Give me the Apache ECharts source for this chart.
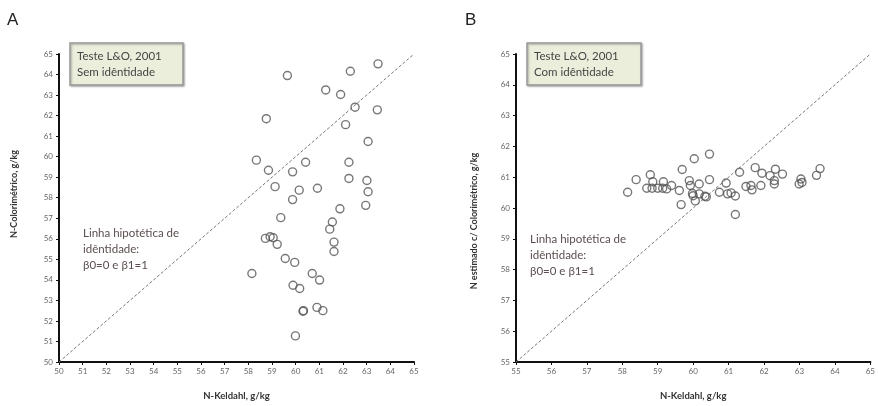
<!DOCTYPE html>
<html>
<head>
<meta charset="utf-8">
<script src="https://cdn.jsdelivr.net/npm/echarts@6/dist/echarts.min.js"></script>
<style>html,body{margin:0;padding:0;background:#fff;}#c{width:878px;height:406px;}</style>
</head>
<body>
<div id="c"></div>
<script>
// Panel A: Sem identidade
const xA = [59.65,63.48,62.31,61.27,61.90,62.51,63.45,58.76,62.11,63.06,58.34,60.42,62.25,58.85,59.87,62.25,63.01,59.13,60.15,60.92,63.06,59.87,62.96,61.87,59.37,61.55,61.44,58.72,58.92,59.05,59.22,61.62,61.62,59.56,59.96,58.15,60.70,61.01,59.89,60.17,60.31,60.33,60.90,61.15,59.99];
const yA = [63.95,64.52,64.16,63.25,63.03,62.41,62.28,61.85,61.56,60.74,59.83,59.73,59.73,59.34,59.26,58.94,58.84,58.54,58.37,58.46,58.29,57.91,57.63,57.46,57.03,56.82,56.47,56.02,56.10,56.05,55.73,55.84,55.38,55.04,54.85,54.31,54.31,53.99,53.74,53.58,52.47,52.50,52.66,52.50,51.27];
// Panel B: Com identidade
const xB = [58.15,58.39,58.79,58.86,58.69,58.84,59.00,59.14,59.25,59.16,59.39,59.61,59.66,59.69,59.89,59.92,60.03,59.98,60.00,60.06,60.17,60.17,60.33,60.37,60.46,60.46,60.74,60.93,60.97,61.07,61.19,61.19,61.31,61.49,61.63,61.66,61.91,61.75,61.94,62.17,62.32,62.29,62.29,62.52,62.99,63.04,63.07,63.48,63.58];
const yB = [60.51,60.92,61.08,60.85,60.64,60.64,60.64,60.64,60.62,60.85,60.73,60.57,60.11,61.25,60.89,60.73,61.60,60.47,60.40,60.23,60.78,60.46,60.38,60.36,61.75,60.92,60.51,60.81,60.46,60.49,60.39,59.79,61.16,60.70,60.73,60.59,60.73,61.31,61.13,61.05,61.26,60.89,60.78,61.10,60.78,60.94,60.83,61.06,61.28];
// Axis ranges
const rangeA = [50, 65];
const rangeB = [55, 65];
const identA = [[50, 50], [65, 65]];
const identB = [[55, 55], [65, 65]];

const titleFont = 'Lato, "Open Sans", sans-serif';
function xAxis(idx, r) {
  return {
    gridIndex: idx, type: 'value', min: r[0], max: r[1], interval: 1,
    name: 'N-Keldahl, g/kg', nameLocation: 'middle', nameGap: 29,
    nameTextStyle: { fontSize: 9.5, fontWeight: 'bold', color: '#333', fontFamily: titleFont },
    axisLine: { lineStyle: { color: '#111', width: 2 } },
    axisTick: { length: 3, lineStyle: { color: '#111' } },
    axisLabel: { fontSize: 8, color: '#666', margin: 5, fontFamily: titleFont },
    splitLine: { show: false }
  };
}
function yAxis(idx, r, name, gap, pad) {
  return {
    gridIndex: idx, type: 'value', min: r[0], max: r[1], interval: 1,
    name: name, nameLocation: 'middle', nameGap: gap,
    nameTextStyle: { fontSize: 9, fontWeight: 'bold', color: '#333', fontFamily: titleFont, padding: pad },
    axisLine: { lineStyle: { color: '#111', width: 2 } },
    axisTick: { length: 3, lineStyle: { color: '#111' } },
    axisLabel: { fontSize: 8, color: '#666', margin: 6, fontFamily: titleFont },
    splitLine: { show: false }
  };
}
const pts = (xs, ys) => xs.map((x, i) => [x, ys[i]]);
const scatterStyle = { color: 'rgba(0,0,0,0)', borderColor: '#555', borderWidth: 1.4 };
const identStyle = { color: '#777', width: 1, type: [3, 2] };

const chart = echarts.init(document.getElementById('c'));
chart.setOption({
  animation: false,
  backgroundColor: '#fff',
  grid: [
    { left: 59, top: 54, width: 355, height: 314 },
    { left: 516, top: 54, width: 355, height: 314 }
  ],
  xAxis: [xAxis(0, rangeA), xAxis(1, rangeB)],
  yAxis: [
    yAxis(0, rangeA, 'N-Colorimétrico, g/kg', 40, [0, 0, 0, 28]),
    yAxis(1, rangeB, 'N estimado c/ Colorimétrico, g/kg', 37, [0, 26, 0, 0])
  ],
  series: [
    { type: 'line', xAxisIndex: 0, yAxisIndex: 0, data: identA, symbol: 'none', lineStyle: identStyle, z: 1 },
    { type: 'scatter', xAxisIndex: 0, yAxisIndex: 0, data: pts(xA, yA), symbol: 'circle', symbolSize: 8, itemStyle: scatterStyle, z: 2 },
    { type: 'line', xAxisIndex: 1, yAxisIndex: 1, data: identB, symbol: 'none', lineStyle: identStyle, z: 1 },
    { type: 'scatter', xAxisIndex: 1, yAxisIndex: 1, data: pts(xB, yB), symbol: 'circle', symbolSize: 8, itemStyle: scatterStyle, z: 2 }
  ],
  graphic: [
    { type: 'text', left: 7, top: 12, style: { text: 'A', fontSize: 17, fill: '#222', fontFamily: 'Liberation Sans, Arial, sans-serif' } },
    { type: 'text', left: 465, top: 12, style: { text: 'B', fontSize: 17, fill: '#222', fontFamily: 'Liberation Sans, Arial, sans-serif' } },
    { type: 'rect', shape: { x: 70, y: 43, width: 113, height: 42 }, style: { fill: '#eceedc', stroke: '#9a9a9a', lineWidth: 1.5, shadowBlur: 2, shadowColor: 'rgba(0,0,0,0.3)', shadowOffsetX: 1, shadowOffsetY: 1 }, z: 10 },
    { type: 'text', x: 77, y: 48, style: { text: 'Teste L&O, 2001\nSem idêntidade', fontSize: 11.5, lineHeight: 16, fill: '#444', fontFamily: titleFont }, z: 11 },
    { type: 'rect', shape: { x: 527, y: 43, width: 114, height: 42 }, style: { fill: '#eceedc', stroke: '#9a9a9a', lineWidth: 1.5, shadowBlur: 2, shadowColor: 'rgba(0,0,0,0.3)', shadowOffsetX: 1, shadowOffsetY: 1 }, z: 10 },
    { type: 'text', x: 534, y: 48, style: { text: 'Teste L&O, 2001\nCom idêntidade', fontSize: 11.5, lineHeight: 16, fill: '#444', fontFamily: titleFont }, z: 11 },
    { type: 'text', x: 83, y: 225, style: { text: 'Linha hipotética de\nidêntidade:\nβ0=0 e β1=1', fontSize: 11.5, lineHeight: 16, fill: '#5a4e4e', fontFamily: titleFont }, z: 11 },
    { type: 'text', x: 530, y: 231, style: { text: 'Linha hipotética de\nidêntidade:\nβ0=0 e β1=1', fontSize: 11.5, lineHeight: 16, fill: '#5a4e4e', fontFamily: titleFont }, z: 11 }
  ]
});
</script>
</body>
</html>
